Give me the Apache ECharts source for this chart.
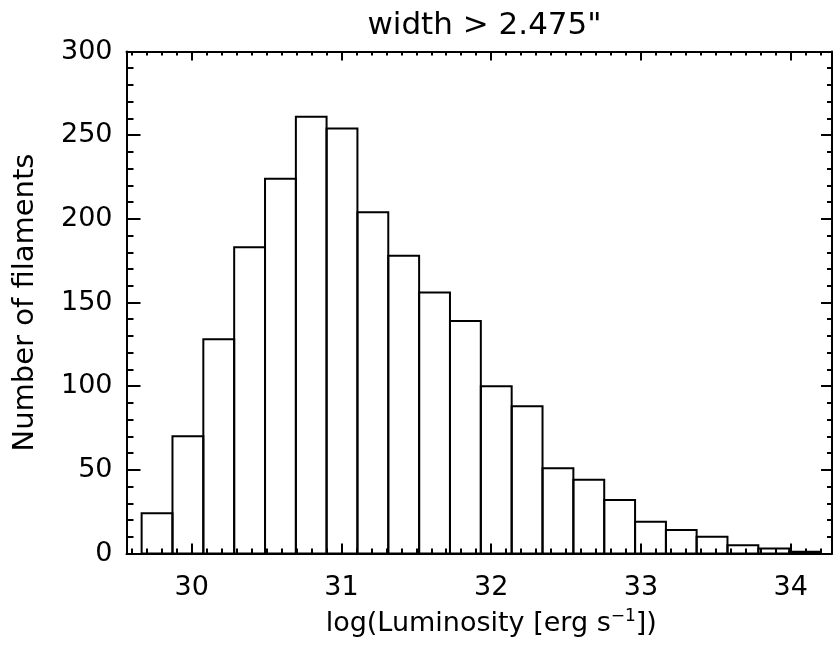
<!DOCTYPE html>
<html>
<head>
<meta charset="utf-8">
<script src="https://cdn.jsdelivr.net/npm/echarts@6/dist/echarts.min.js"></script>
<style>html,body{margin:0;padding:0;background:#fff;}#c{width:833px;height:645px;}</style>
</head>
<body>
<div id="c"></div>
<script>
// ---- data ----
var binEdges = [29.666, 29.872, 30.078, 30.284, 30.490, 30.696, 30.901, 31.107, 31.313, 31.519, 31.725, 31.931,
                32.137, 32.343, 32.549, 32.755, 32.961, 33.167, 33.372, 33.578, 33.784, 33.990, 34.196];
var counts = [24, 70, 128, 183, 224, 261, 254, 204, 178, 156, 139, 100, 88, 51, 44, 32, 19, 14, 10, 5, 3, 1];
var xTicks = [30, 31, 32, 33, 34];
var yTicks = [0, 50, 100, 150, 200, 250, 300];
var titleText = 'width > 2.475"';
var xName = 'log(Luminosity [erg s{sup|\u22121}])';
var yName = 'Number of filaments';

var xMin = 29.565, xMax = 34.276;
var xMinor = [];
for (var t = 296; t <= 342; t++) { if (t % 10 !== 0) xMinor.push(t / 10); }

var barData = counts.map(function (c, i) { return [binEdges[i], binEdges[i + 1], c]; });

var FONT = 'DejaVu Sans';
var FS = 27;
var chart = echarts.init(document.getElementById('c'), null, {renderer: 'canvas'});

function xAxisDef(pos, custom, len, showLabel, showLine, name) {
  var a = {
    type: 'value', position: pos, min: xMin, max: xMax,
    axisLine: {show: showLine, onZero: false, lineStyle: {color: '#000', width: 2}},
    axisTick: {show: true, inside: true, length: len, customValues: custom, lineStyle: {color: '#000', width: 2}},
    axisLabel: {show: showLabel, customValues: xTicks, color: '#000', fontFamily: FONT, fontSize: FS, margin: 21,
                formatter: function (v) { return String(v); }},
    splitLine: {show: false}
  };
  if (name) {
    a.name = name; a.nameLocation = 'middle'; a.nameGap = 55;
    a.nameTextStyle = {color: '#000', fontFamily: FONT, fontSize: FS, padding: [0, 0, 0, 24],
      rich: {sup: {fontFamily: FONT, fontSize: 17, color: '#000', verticalAlign: 'top', padding: [0, 0, 14, 0]}}};
  }
  return a;
}

function yAxisDef(pos, majorLen, minorLen, showLabel, name) {
  var a = {
    type: 'value', position: pos, min: 0, max: 300, interval: 50,
    axisLine: {show: true, lineStyle: {color: '#000', width: 2}},
    axisTick: {show: true, inside: true, length: majorLen, lineStyle: {color: '#000', width: 2}},
    minorTick: {show: true, splitNumber: 5, length: minorLen, lineStyle: {color: '#000', width: 2}},
    axisLabel: {show: showLabel, color: '#000', fontFamily: FONT, fontSize: FS, margin: 14},
    splitLine: {show: false}
  };
  if (name) {
    a.name = name; a.nameLocation = 'middle'; a.nameGap = 87; a.nameRotate = 90;
    a.nameTextStyle = {color: '#000', fontFamily: FONT, fontSize: 29};
  }
  return a;
}

chart.setOption({
  backgroundColor: '#fff',
  animation: false,
  title: {text: titleText, left: 479.5, top: 5, textAlign: 'center',
          textStyle: {color: '#000', fontFamily: FONT, fontSize: 31, fontWeight: 'normal'}},
  grid: {left: 126.5, right: 1, top: 51.5, bottom: 91.5, containLabel: false, outerBoundsMode: 'none'},
  xAxis: [
    xAxisDef('bottom', xTicks, 10, true, true, xName),
    xAxisDef('bottom', xMinor, 5, false, false, null),
    xAxisDef('top', xTicks, 9, false, true, null),
    xAxisDef('top', xMinor, 4, false, false, null)
  ],
  yAxis: [
    yAxisDef('left', 14, 7, true, yName),
    yAxisDef('right', 11, 5, false, null)
  ],
  series: [{
    type: 'custom',
    xAxisIndex: 0, yAxisIndex: 0,
    data: barData,
    encode: {x: [0, 1], y: 2},
    renderItem: function (params, api) {
      var p0 = api.coord([api.value(0), 0]);
      var p1 = api.coord([api.value(1), api.value(2)]);
      return {
        type: 'rect',
        shape: {x: p0[0], y: p1[1], width: p1[0] - p0[0], height: p0[1] - p1[1]},
        style: {fill: 'rgba(0,0,0,0)', stroke: '#000', lineWidth: 2}
      };
    }
  }]
});
</script>
</body>
</html>
